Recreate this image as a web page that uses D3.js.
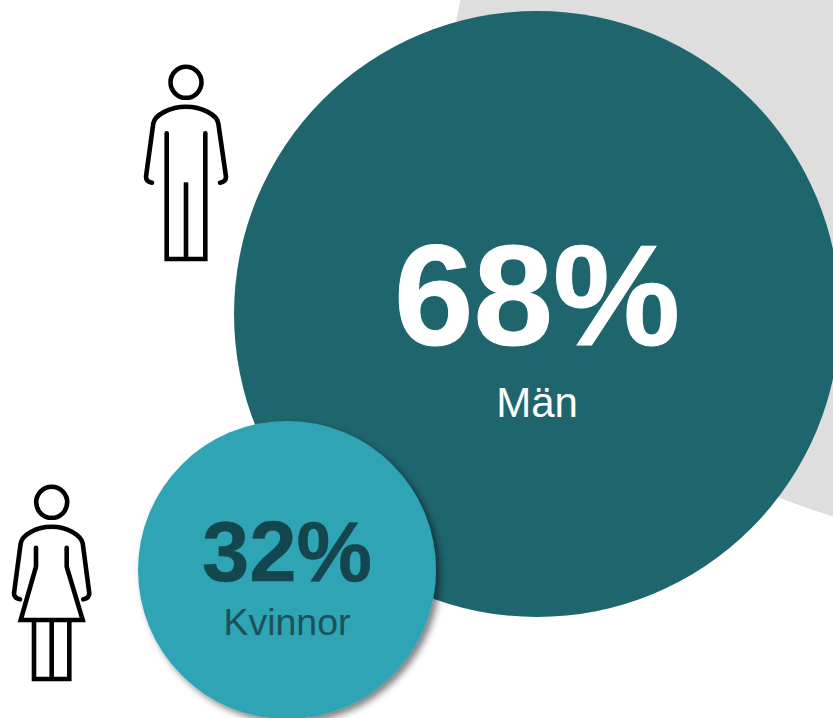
<!DOCTYPE html>
<html>
<head>
<meta charset="utf-8">
<script src="https://cdn.jsdelivr.net/npm/d3@7"></script>
<style>
  html, body { margin: 0; padding: 0; background: #fff; overflow: hidden; }
  svg { display: block; }
  text { font-family: "Liberation Sans", Arial, sans-serif; text-anchor: middle; }
</style>
</head>
<body>
<div id="chart"></div>
<script>
// values
var categories = ["Män", "Kvinnor"];
var shares = [68, 32];

var width = 833,
    height = 718;

var svg = d3.select("#chart")
  .append("svg")
    .attr("width", width)
    .attr("height", height);

// soft shadow under the small circle
var shadow = svg.append("defs").append("filter")
    .attr("id", "shadow")
    .attr("x", "-10%").attr("y", "-10%")
    .attr("width", "125%").attr("height", "125%");
shadow.append("feDropShadow")
    .attr("dx", 4).attr("dy", 4)
    .attr("stdDeviation", 3.5)
    .attr("flood-color", "#000")
    .attr("flood-opacity", 0.5);

// grey shape behind everything
svg.append("ellipse")
    .attr("cx", 1045).attr("cy", 82)
    .attr("rx", 594).attr("ry", 465)
    .attr("fill", "#dedede");

// bubble size, position and text per share
var r = d3.scaleLinear().domain([32, 68]).range([149, 303]);
var cx = d3.scaleLinear().domain([32, 68]).range([287, 537]);
var cy = d3.scaleLinear().domain([32, 68]).range([570, 314]);
var fill = d3.scaleOrdinal().domain(categories).range(["#1e656d", "#2ea4b5"]);
var ink = d3.scaleOrdinal().domain(categories).range(["#ffffff", "#14464e"]);
var labelInk = d3.scaleOrdinal().domain(categories).range(["#ffffff", "#1b525a"]);
var bigSize = d3.scaleLinear().domain([32, 68]).range([85, 143]);
var smallSize = d3.scaleLinear().domain([32, 68]).range([37.5, 42]);
var bigDrop = d3.scaleLinear().domain([32, 68]).range([11, 31]);
var smallDrop = d3.scaleLinear().domain([32, 68]).range([65, 103]);
var weight = d3.scaleLinear().domain([32, 68]).range([0.5, 1]);

var bubbles = svg.selectAll("g.bubble")
  .data(categories)
  .enter()
  .append("g")
    .attr("class", "bubble")
    .attr("transform", function(d, i) {
      return "translate(" + cx(shares[i]) + "," + cy(shares[i]) + ")";
    });

bubbles.append("circle")
    .attr("r", function(d, i) { return r(shares[i]); })
    .attr("fill", function(d) { return fill(d); })
    .attr("filter", function(d, i) { return i == 1 ? "url(#shadow)" : null; });

bubbles.append("text")
    .attr("y", function(d, i) { return bigDrop(shares[i]); })
    .attr("font-size", function(d, i) { return bigSize(shares[i]); })
    .attr("font-weight", "bold")
    .attr("fill", function(d) { return ink(d); })
    .attr("stroke", function(d) { return ink(d); })
    .attr("stroke-width", function(d, i) { return weight(shares[i]); })
    .text(function(d, i) { return shares[i] + "%"; });

bubbles.append("text")
    .attr("y", function(d, i) { return smallDrop(shares[i]); })
    .attr("font-size", function(d, i) { return smallSize(shares[i]); })
    .attr("fill", function(d) { return labelInk(d); })
    .text(function(d) { return d; });

// outline figures
var figures = svg.append("g")
    .attr("fill", "none")
    .attr("stroke", "#000")
    .attr("stroke-width", 4.6)
    .attr("stroke-linejoin", "miter");

// man
figures.append("circle").attr("cx", 186).attr("cy", 82.3).attr("r", 15.5);
figures.append("path")
    .attr("stroke-linecap", "round")
    .attr("d", "M152,182.7 C148,182 146,180 146,176.7 L153.3,123.3 C155,115 170,106.7 186,106.7 C202,106.7 217,115 218.3,123.3 L226,176.7 C226,180 224,182 220,182.7");
figures.append("path")
    .attr("stroke-linecap", "round")
    .attr("d", "M166.7,133.3 L166.7,259 L205.3,259 L205.3,133.3");
figures.append("path")
    .attr("d", "M186,182.3 L186,259");

// woman
figures.append("circle").attr("cx", 51.7).attr("cy", 502.3).attr("r", 15.5);
figures.append("path")
    .attr("stroke-linecap", "round")
    .attr("d", "M20,599.3 C16,598.5 14,596.5 14,593.3 L20.7,543.3 C22,535 36,526.7 51.7,526.7 C67,526.7 81,535 82.7,543.3 L89.3,593.3 C89.3,596.5 87.5,598.5 83.3,599.3");
figures.append("path")
    .attr("stroke-linecap", "round")
    .attr("d", "M36,547.7 L36,566.7 L20.7,620 L82.7,620 L66.7,566.7 L66.7,547.7");
figures.append("path")
    .attr("d", "M34,620 L34,679 L69.3,679 L69.3,620 M51.7,620 L51.7,679");
</script>
</body>
</html>
